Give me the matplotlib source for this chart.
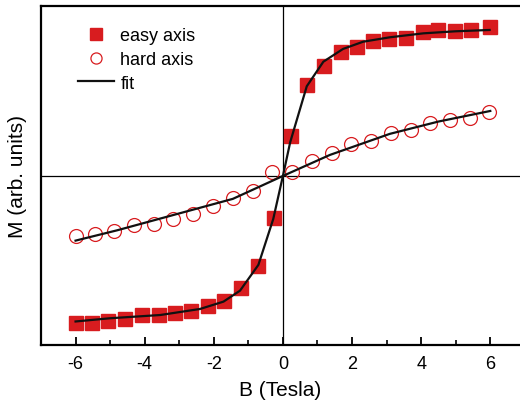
import matplotlib
matplotlib.use("Agg")
import matplotlib.pyplot as plt
import numpy as np

plt.rcParams['font.family'] = ['Liberation Sans', 'DejaVu Sans']

# easy axis (filled squares)
easy_B = [-6.0, -5.53, -5.05, -4.57, -4.08, -3.6, -3.12, -2.66, -2.18, -1.7, -1.22, -0.73, -0.25,
          0.22, 0.71, 1.18, 1.67, 2.15, 2.6, 3.07, 3.55, 4.05, 4.5, 4.97, 5.43, 6.0]
easy_M = [-1.0, -1.0, -0.985, -0.973, -0.946, -0.946, -0.932, -0.917, -0.882, -0.848, -0.764, -0.61, -0.284,
          0.27, 0.62, 0.75, 0.84, 0.88, 0.92, 0.93, 0.94, 0.98, 0.99, 0.985, 0.995, 1.01]

# hard axis (open circles)
hard_B = [-6.0, -5.45, -4.88, -4.3, -3.73, -3.17, -2.6, -2.02, -1.45, -0.88, -0.32,
          0.27, 0.85, 1.41, 1.97, 2.54, 3.12, 3.7, 4.25, 4.83, 5.4, 5.97]
hard_M = [-0.41, -0.395, -0.372, -0.333, -0.327, -0.293, -0.259, -0.202, -0.152, -0.10, 0.025,
          0.025, 0.104, 0.156, 0.216, 0.24, 0.293, 0.313, 0.36, 0.383, 0.395, 0.433]

# fit curves
fit_easy_B = [-6.0, -5.0, -3.55, -2.4, -1.72, -1.24, -0.71, -0.28, 0.0,
              0.21, 0.69, 1.17, 1.74, 2.32, 3.09, 4.06, 5.0, 5.98]
fit_easy_M = [-0.99, -0.968, -0.946, -0.905, -0.855, -0.78, -0.605, -0.293, 0.0,
              0.229, 0.61, 0.777, 0.864, 0.913, 0.943, 0.97, 0.984, 0.993]
fit_hard_B = [-6.0, -4.8, -3.55, -1.45, 0.0, 1.36, 3.09, 4.5, 6.0]
fit_hard_M = [-0.44, -0.37, -0.29, -0.156, 0.0, 0.143, 0.286, 0.37, 0.442]

xticks = [-6, -4, -2, 0, 2, 4, 6]
xtick_labels = ['-6', '-4', '-2', '0', '2', '4', '6']

red = '#d81c1f'
W, H = 520, 410
fig = plt.figure(figsize=(W / 100, H / 100), dpi=100)
ax = fig.add_axes([41 / W, 1 - 346 / H, 1 - 41 / W, (346 - 7) / H])

ax.axhline(0, color='black', lw=0.9, zorder=1)
ax.axvline(0, color='black', lw=0.9, zorder=1)

ax.plot(easy_B, easy_M, ls='none', marker='s', ms=10, color=red, mec=red, label='easy axis', zorder=3)
ax.plot(hard_B, hard_M, ls='none', marker='o', ms=10, mfc='none', mec=red, mew=0.9, label='hard axis', zorder=3)
ax.plot(fit_easy_B, fit_easy_M, color='#111111', lw=1.6, label='fit', zorder=4)
ax.plot(fit_hard_B, fit_hard_M, color='#111111', lw=1.6, zorder=4)

ax.set_xlim(-7, 6.86)
ax.set_ylim(-1.15, 1.156)
ax.set_xticks(xticks)
ax.set_xticklabels(xtick_labels)
ax.set_xticks([-5, -3, -1, 1, 3, 5], minor=True)
ax.set_yticks([])
ax.tick_params(axis='x', which='major', direction='in', length=6, width=1.3, labelsize=13, pad=7)
ax.tick_params(axis='x', which='minor', direction='in', length=3.5, width=1.2)
for s in ['left', 'bottom', 'top']:
    ax.spines[s].set_linewidth(1.6)
ax.spines['right'].set_visible(False)

ax.set_xlabel('B (Tesla)', fontsize=15, labelpad=6)
ax.set_ylabel('M (arb. units)', fontsize=15, labelpad=10)

leg = ax.legend(loc='upper left', bbox_to_anchor=(78 / W, 1 - 28 / H), bbox_transform=fig.transFigure,
                frameon=False, fontsize=13, borderpad=0, borderaxespad=0, handlelength=2.0,
                handletextpad=0.35, labelspacing=0.38, markerscale=0.8)

fig.savefig('out.png', dpi=100)
